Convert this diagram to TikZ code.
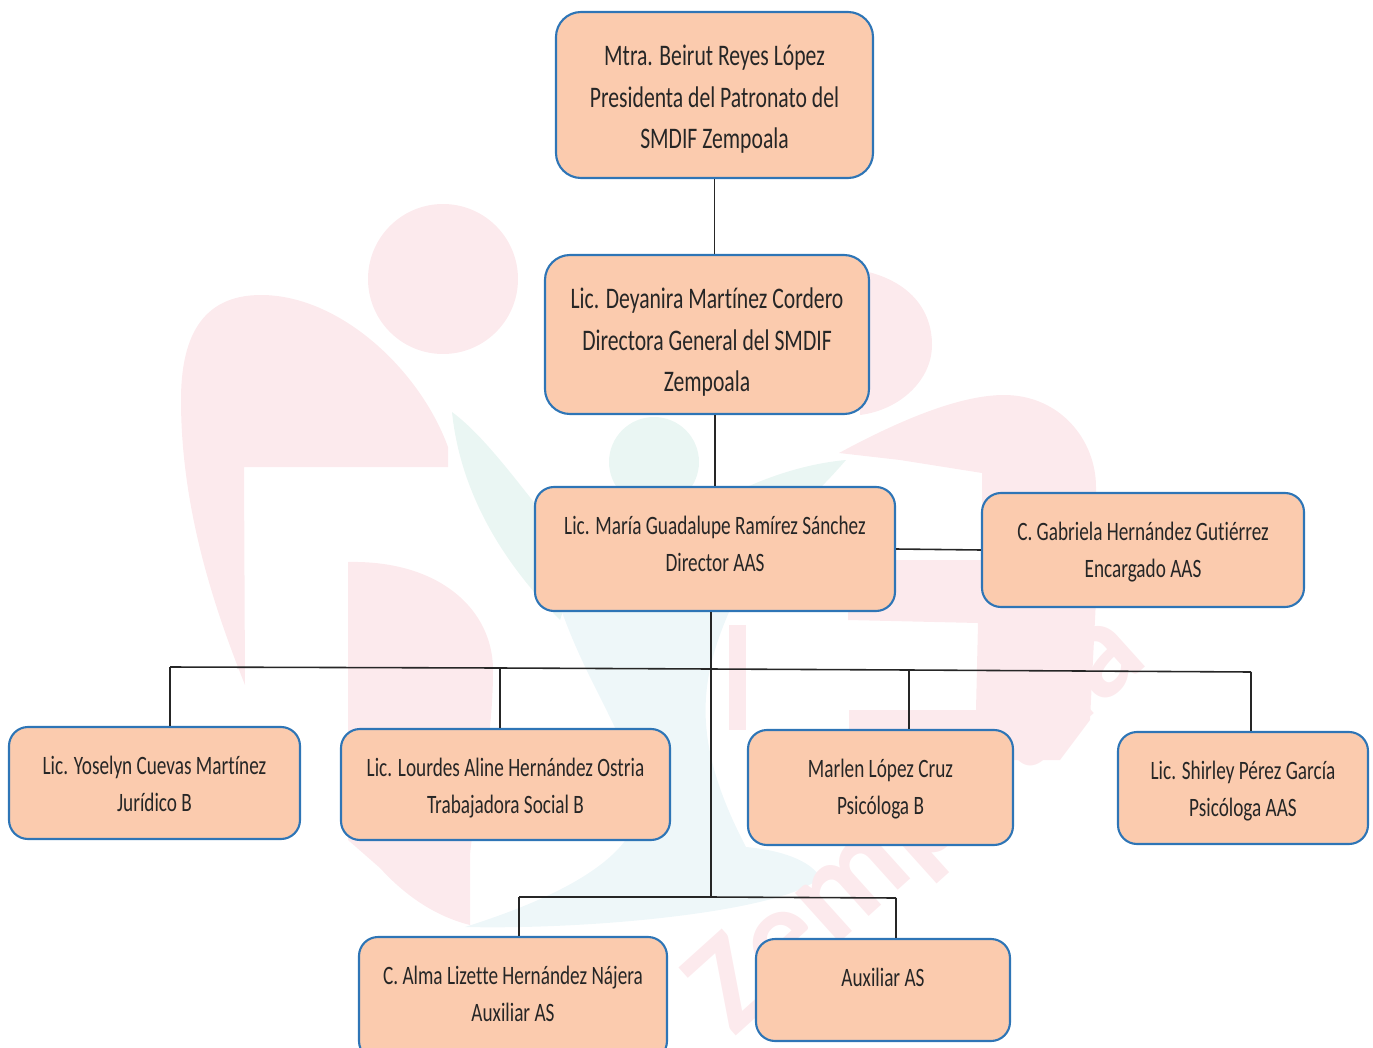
\documentclass[tikz,border=0pt]{standalone}
\usepackage{fontspec}
\setmainfont[FakeStretch=0.725,Ligatures=NoCommon]{Carlito}
\newfontfamily\marcafont[BoldFont=Carlito Bold]{Carlito}
\usepackage{tikz}
\usetikzlibrary{positioning, calc}
\definecolor{cajafill}{RGB}{251,203,174}
\definecolor{cajaline}{RGB}{46,117,182}
\definecolor{marcapink}{RGB}{252,234,237}
\definecolor{marcateal}{RGB}{234,246,243}
\definecolor{marcablue}{RGB}{238,247,249}
\newdimen\mypx
\mypx=0.02cm
\newcommand{\cajatext}[3]{\parbox[c][#2\mypx][t]{#1\mypx}{\centering\rule{0pt}{1.3\baselineskip}#3}}
\tikzset{
	caja/.style={draw=cajaline, fill=cajafill, line width=1.2pt, inner sep=0pt, text=black!85},
	cajagrande/.style={caja, rounded corners=0.5cm, font=\fontsize{17}{23.6}\selectfont},
	cajachica/.style={caja, rounded corners=0.38cm, font=\fontsize{15.1}{21}\selectfont},
	enlace/.style={draw=black!85, line width=0.9pt},
	marca/.style={draw=none, fill=marcapink}
}
\begin{document}
\begin{tikzpicture}[x=0.02cm, y=-0.02cm]
	\useasboundingbox (0,0) rectangle (1373,1048);
	
	\fill[marcateal] (452,412) .. controls (490,440) and (530,500) .. (580,560) -- (560,620) .. controls (500,560) and (460,490) .. cycle;
	\fill[marcateal] (654,462) circle (45);
	\fill[marcateal] (846,460) .. controls (820,490) and (790,520) .. (730,560) -- (690,520) .. controls (730,490) and (790,465) .. cycle;
	\fill[marcablue] (562,612) -- (729,612) .. controls (700,680) and (690,740) .. (746,847) .. controls (780,850) and (810,860) .. (820,877) .. controls (790,910) and (600,930) .. (465,927) .. controls (550,900) and (640,860) .. (640,800) .. controls (630,740) and (590,690) .. cycle;
	
	\fill[marca] (443,279) circle (75);
	\fill[marca] (448,467) -- (448,447) .. controls (420,370) and (340,295) .. (261,295) .. controls (200,295) and (181,340) .. (181,400) .. controls (181,510) and (215,610) .. (245,685) -- (244,467) -- cycle;
	\fill[marca] (348,562) .. controls (440,560) and (493,610) .. (493,670) .. controls (493,750) and (475,800) .. (470,855) -- (470,925) .. controls (430,915) and (400,890) .. (380,868) -- (348,840) -- cycle;
	\fill[marca] (839,453) .. controls (900,420) and (960,395) .. (1004,395) .. controls (1060,395) and (1096,440) .. (1096,487) -- (1096,600) -- (1090,720) -- (1060,760) -- (849,760) -- (849,710) -- (976,710) -- (978,623) -- (848,620) -- (848,560) -- (982,560) -- (982,473) -- (900,460) -- cycle;
	\fill[marca] (729,625) -- (746,625) -- (746,730) -- (729,730) -- cycle;
	\fill[marca] (860,270) .. controls (910,280) and (932,310) .. (932,345) .. controls (932,380) and (900,410) .. (860,415) -- cycle;
	\node[text=marcapink, rotate=42, font=\marcafont\bfseries\fontsize{78}{78}\selectfont] (marcatexto) at (918,822) {Zempoala};
	
	\node[cajagrande] (presidenta) at (714.5,95) {\cajatext{317}{166}{Mtra. Beirut Reyes López\\Presidenta del Patronato del\\SMDIF Zempoala}};
	\node[cajagrande] (general) at (707,334.5) {\cajatext{324}{159}{Lic. Deyanira Martínez Cordero\\Directora General del SMDIF\\Zempoala}};
	\node[cajachica] (director) at (715,549) {\cajatext{360}{124}{Lic. María Guadalupe Ramírez Sánchez\\Director AAS}};
	\node[cajachica] (encargado) at (1143,550) {\cajatext{322}{114}{C. Gabriela Hernández Gutiérrez\\Encargado AAS}};
	\node[cajachica] (juridico) at (154.5,783) {\cajatext{291}{112}{Lic. Yoselyn Cuevas Martínez\\Jurídico B}};
	\node[cajachica] (trabajadora) at (505.5,784.5) {\cajatext{329}{111}{Lic. Lourdes Aline Hernández Ostria\\Trabajadora Social B}};
	\node[cajachica] (psicologab) at (880.5,787.5) {\cajatext{265}{115}{Marlen López Cruz\\Psicóloga B}};
	\node[cajachica] (psicologaa) at (1243,788) {\cajatext{250}{112}{Lic. Shirley Pérez García\\Psicóloga AAS}};
	\node[cajachica] (auxiliara) at (513,998.5) {\cajatext{308}{123}{C. Alma Lizette Hernández Nájera\\Auxiliar AS}};
	\node[cajachica] (auxiliarb) at (883,990) {\cajatext{254}{102}{Auxiliar AS}};
	
	\coordinate (busjur) at (170,667);
	\coordinate (bustra) at (500,668);
	\coordinate (busmed) at (711,669);
	\coordinate (buspsib) at (909,670);
	\coordinate (buspsia) at (1251,672);
	\coordinate (busbaja) at (711,897);
	\coordinate (busauxa) at (519,897);
	\coordinate (busauxb) at (896,898);
	
	\draw[enlace] (presidenta.south) -- (presidenta.south |- general.north);
	\draw[enlace] (director.north |- general.south) -- (director.north);
	\draw[enlace] (director.east) -- (encargado.west);
	\draw[enlace] (busmed |- director.south) -- (busbaja);
	\draw[enlace] (busjur) -- (bustra) -- (busmed) -- (buspsib) -- (buspsia);
	\draw[enlace] (busjur) -- (busjur |- juridico.north);
	\draw[enlace] (bustra) -- (bustra |- trabajadora.north);
	\draw[enlace] (buspsib) -- (buspsib |- psicologab.north);
	\draw[enlace] (buspsia) -- (buspsia |- psicologaa.north);
	\draw[enlace] (busauxa) -- (busbaja) -- (busauxb);
	\draw[enlace] (busauxa) -- (busauxa |- auxiliara.north);
	\draw[enlace] (busauxb) -- (busauxb |- auxiliarb.north);
\end{tikzpicture}
\end{document}
